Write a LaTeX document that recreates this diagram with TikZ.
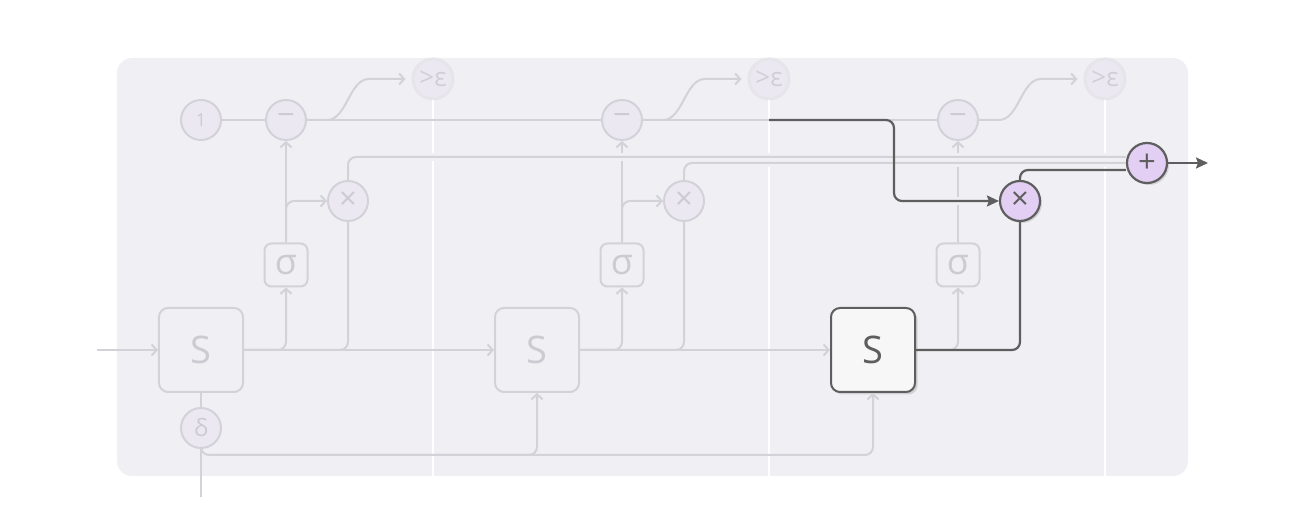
\documentclass[tikz,border=0pt]{standalone}
\usepackage{fontspec}
\setmainfont{Open Sans}
\usetikzlibrary{arrows.meta,positioning,shadows}

\definecolor{panel}{HTML}{F0EFF4}
\definecolor{wirec}{HTML}{D3D2D8}
\definecolor{opfill}{HTML}{EBE8F2}
\definecolor{faint}{HTML}{CDCBD2}
\definecolor{ink}{HTML}{5E5E5E}
\definecolor{lilac}{HTML}{E2CFF3}

\begin{document}
\begin{tikzpicture}[x=1pt,y=1pt,on grid,
    wire/.style={draw=wirec,line width=2pt,rounded corners=8pt},
    darkwire/.style={draw=ink,line width=2.2pt,rounded corners=8pt},
    lt/.style={-{Straight Barb[length=5pt,width=11pt]}},
    dt/.style={-{Stealth[length=12pt,width=11pt,inset=2pt]}},
    bridge/.style={preaction={draw=panel,line width=8pt,-,shorten <=3pt,shorten >=3pt}},
    sep/.style={draw=white,line width=2.5pt},
    sbox/.style={draw=wirec,fill=panel,line width=2pt,rounded corners=9pt,minimum size=84pt,
      inner sep=0pt,text=faint,font=\fontsize{38}{40}\selectfont},
    sboxon/.style={sbox,draw=ink,fill=black!3,text=ink,
      drop shadow={shadow xshift=2.5pt,shadow yshift=-2.5pt,fill=black,opacity=0.12}},
    gbox/.style={draw=wirec,line width=2pt,rounded corners=7pt,minimum size=43pt,
      inner sep=0pt,text=faint,font=\fontsize{36}{36}\selectfont},
    op/.style={circle,draw=wirec,fill=opfill,line width=2pt,minimum size=40pt,
      inner sep=0pt,text=faint,font=\fontsize{31}{31}\selectfont},
    opon/.style={op,draw=ink,fill=lilac,text=ink,line width=2.2pt,
      drop shadow={shadow xshift=2pt,shadow yshift=-2pt,fill=black,opacity=0.12}},
    eps/.style={op,draw=black!4!panel,line width=3pt,text=faint!90!panel,
      font=\fontsize{26}{26}\selectfont}]

    \useasboundingbox (-201,-176) rectangle (1111,350);
    \fill[panel,rounded corners=15pt] (-84,-126) rectangle (987,292);
    \coordinate (floor) at (0,-126);

    % three cells
    \node(s1)[sbox] {S};
    \node(s2)[sbox,right=336pt of s1] {S};
    \node(s3)[sboxon,right=336pt of s2] {S};

    \node(sg1)[gbox,above right=85pt and 85pt of s1] {σ};
    \node(sg2)[gbox,above right=85pt and 85pt of s2] {σ};
    \node(sg3)[gbox,above right=85pt and 85pt of s3] {σ};

    \node(mi1)[op,above=145pt of sg1] {−};
    \node(mi2)[op,above=145pt of sg2] {−};
    \node(mi3)[op,above=145pt of sg3] {−};

    \node(mu1)[op,above right=64pt and 62pt of sg1] {×};
    \node(mu2)[op,above right=64pt and 62pt of sg2] {×};
    \node(mu3)[opon,above right=64pt and 62pt of sg3] {×};

    \node(ep1)[eps,above right=41pt and 147pt of mi1] {>ε};
    \node(ep2)[eps,above right=41pt and 147pt of mi2] {>ε};
    \node(ep3)[eps,above right=41pt and 147pt of mi3] {>ε};

    \node(one)[op,left=85pt of mi1,font=\fontsize{18}{18}\selectfont] {1};
    \node(dl)[op,below=78pt of s1,font=\fontsize{24}{24}\selectfont] {δ};
    \node(pl)[opon,above right=38pt and 127pt of mu3] {+};

    \coordinate[left=104pt of s1] (in);
    \coordinate[right=61pt of pl] (out);
    \coordinate[below=27pt of dl] (bus);
    \coordinate[below=69pt of dl] (tail);
    \coordinate (tap) at (ep2 |- mi2);

    \path[sep] (ep1.south) -- (ep1 |- floor);
    \path[sep] (ep2.south) -- (ep2 |- floor);
    \path[sep] (ep3.south) -- (ep3 |- floor);

    % faded wires
    \path[wire,lt] (in) -- (s1);
    \path[wire,lt] (s1) -- (s2);
    \path[wire,lt] (s2) -- (s3);
    \path[wire,lt] (s1.east) -| (sg1);
    \path[wire,lt] (s2.east) -| (sg2);
    \path[wire,lt] (s3.east) -| (sg3);
    \path[wire] (s1.east) -| (mu1);
    \path[wire] (s2.east) -| (mu2);

    \path[wire,lt] (sg1) -- (mi1);
    \path[wire,lt] (sg2) -- (mi2);
    \path[wire,lt] (sg3) -- (mi3);
    \path[wire,lt] (sg1.north) |- (mu1);
    \path[wire,lt] (sg2.north) |- (mu2);

    \path[wire] (one) -- (mi1);
    \path[wire] (mi1) -- (mi2);
    \path[wire] (mi2) -- (mi3);
    \path[wire,lt,shorten >=6pt] (mi1.east) -- ++(12,0) to[out=0,in=180] ++(58,41) -- (ep1);
    \path[wire,lt,shorten >=6pt] (mi2.east) -- ++(12,0) to[out=0,in=180] ++(58,41) -- (ep2);
    \path[wire,lt,shorten >=6pt] (mi3.east) -- ++(12,0) to[out=0,in=180] ++(58,41) -- (ep3);

    \path[wire] (s1) -- (dl);
    \path[wire] (dl) -- (tail);
    \path[wire,lt] (dl) |- (bus -| s3) -- (s3);
    \path[wire,lt] ([xshift=10pt]bus) -| (s2);

    \path[wire,bridge] (mu1) |- ([yshift=6pt]pl.west);
    \path[wire,bridge] (mu2) |- (pl.west);
    \path[bridge] ([xshift=-8pt]sg3 |- mu3) -- ([xshift=8pt]sg3 |- mu3);

    % active path
    \path[darkwire] (s3) -| (mu3);
    \path[darkwire,dt] (tap) -- ++(125,0) |- (mu3);
    \path[darkwire] (mu3) |- ([yshift=-7pt]pl.west);
    \path[darkwire,dt] (pl) -- (out);
\end{tikzpicture}
\end{document}
